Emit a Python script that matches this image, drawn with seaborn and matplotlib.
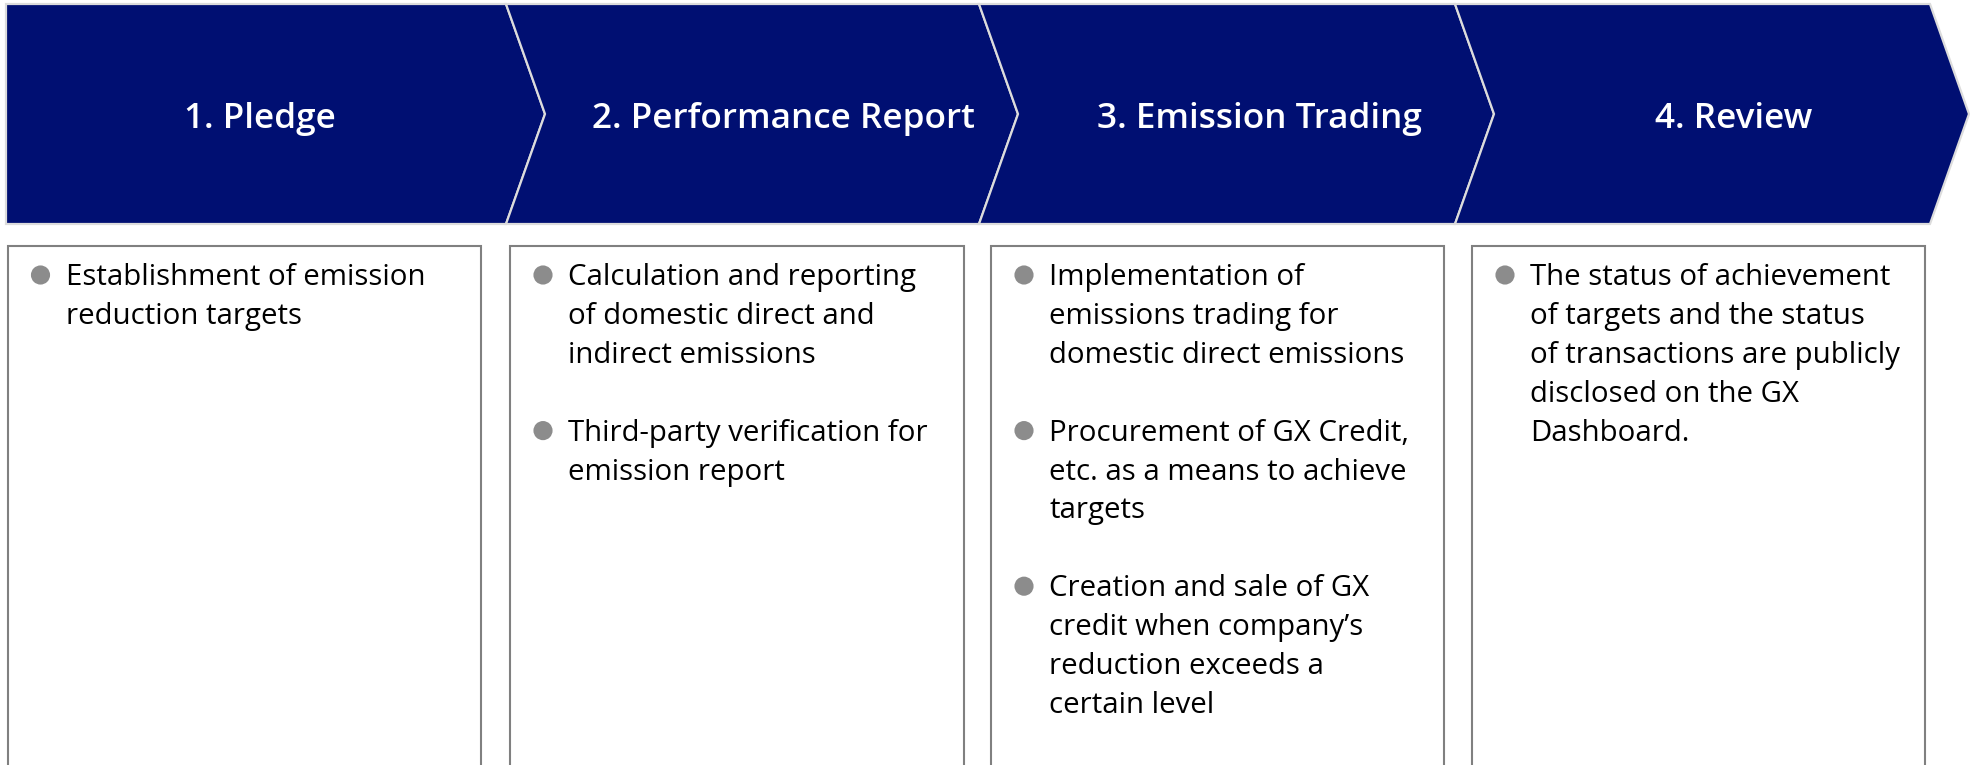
import matplotlib
matplotlib.use("Agg")
import matplotlib.pyplot as plt
import seaborn as sns
import pandas as pd
from matplotlib.patches import Polygon, Rectangle

# ---- content ----
stages = ["1. Pledge", "2. Performance Report", "3. Emission Trading", "4. Review"]
bullets_pledge = ["Establishment of emission\nreduction targets"]
bullets_report = ["Calculation and reporting\nof domestic direct and\nindirect emissions",
                  "Third-party verification for\nemission report"]
bullets_trading = ["Implementation of\nemissions trading for\ndomestic direct emissions",
                   "Procurement of GX Credit,\netc. as a means to achieve\ntargets",
                   "Creation and sale of GX\ncredit when company\u2019s\nreduction exceeds a\ncertain level"]
bullets_review = ["The status of achievement\nof targets and the status\nof transactions are publicly\ndisclosed on the GX\nDashboard."]
stage_bullets = [bullets_pledge, bullets_report, bullets_trading, bullets_review]

# ---- style ----
sns.set_theme(style="white")
plt.rcParams['font.family'] = ['Open Sans', 'DejaVu Sans']
NAVY = '#000F72'
CHEV_EDGE = '#DCDCDC'
BOX_EDGE = '#808080'
BULLET = '#8C8C8C'

W, H = 1970, 765
fig = plt.figure(figsize=(W / 100, H / 100), dpi=100)
ax = fig.add_axes([0, 0, 1, 1])
ax.set_xlim(0, W)
ax.set_ylim(H, 0)
ax.axis('off')

# ---- chevrons (layout) ----
top, bot = 4, 224
mid = (top + bot) / 2
tip = 39
lefts = [6, 506, 979, 1455]
rights = [506, 979, 1455, 1930]
for i, (L, R) in enumerate(zip(lefts, rights)):
    if i == 0:
        pts = [(L, top), (R, top), (R + tip, mid), (R, bot), (L, bot)]
    else:
        pts = [(L, top), (R, top), (R + tip, mid), (R, bot), (L, bot), (L + tip, mid)]
    ax.add_patch(Polygon(pts, closed=True, facecolor=NAVY, edgecolor=CHEV_EDGE,
                         linewidth=1.6, joinstyle='miter', zorder=2))
title_x = [260, 783, 1259, 1734]
for s, x in zip(stages, title_x):
    ax.text(x, 128, s, color='white', fontsize=25.3, fontweight='semibold',
            ha='center', va='baseline', zorder=3)

# ---- boxes ----
box_l = [7.5, 510, 991, 1472]
box_r = [481, 964, 1444, 1925]
box_top = 246
for l, r in zip(box_l, box_r):
    ax.add_patch(Rectangle((l, box_top), r - l, H + 20 - box_top, facecolor='white',
                           edgecolor=BOX_EDGE, linewidth=1.5, zorder=2))

# ---- bullet text ----
line_h = 38.9
base0 = 285
rows = []
for i, blist in enumerate(stage_bullets):
    k = 0
    for b in blist:
        lines = b.split("\n")
        y_first = base0 + k * line_h
        rows.append({"stage": stages[i], "bx": box_l[i] + 33, "by": y_first - 10})
        for j, ln in enumerate(lines):
            ax.text(box_l[i] + 58, y_first + j * line_h, ln, color='black',
                    fontsize=21.2, ha='left', va='baseline', zorder=3)
        k += len(lines) + 1
df = pd.DataFrame(rows)
sns.scatterplot(data=df, x="bx", y="by", s=190, color=BULLET, edgecolor='none',
                legend=False, ax=ax, zorder=3)
ax.set_xlim(0, W)
ax.set_ylim(H, 0)
ax.axis('off')

fig.savefig("out.png", dpi=100)
